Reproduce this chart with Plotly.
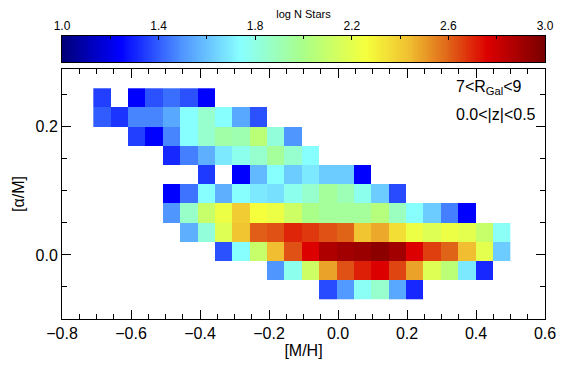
import numpy as np
import plotly.graph_objects as go

# bins of the 2D histogram ([M/H] columns, [alpha/M] rows)
mh_first, mh_step = -0.684, 0.0504
am_first, am_step = -0.055, 0.03

# log N stars per cell, rows listed from top ([a/M]=0.245) to bottom ([a/M]=-0.055)
# columns 0..23 along [M/H]; None = empty cell
N = None
logn_rows = [
    [1.35, N, 1.24, 1.38, 1.43, 1.38, 1.24, N, N, N, N, N, N, N, N, N, N, N, N, N, N, N, N, N],
    [1.40, 1.33, 1.47, 1.47, 1.54, 1.74, 1.85, 1.74, 1.54, 1.38, N, N, N, N, N, N, N, N, N, N, N, N, N, N],
    [N, N, 1.35, 1.24, 1.47, 1.74, 1.85, 1.93, 1.91, 2.06, 1.82, 1.50, N, N, N, N, N, N, N, N, N, N, N, N],
    [N, N, N, N, 1.31, 1.46, 1.56, 1.69, 1.78, 1.85, 1.96, 1.85, 1.74, N, N, N, N, N, N, N, N, N, N, N],
    [N, N, N, N, N, N, 1.34, N, 1.24, 1.58, 1.74, 1.62, 1.69, 1.62, 1.62, 1.24, N, N, N, N, N, N, N, N],
    [N, N, N, N, 1.24, 1.44, 1.74, 1.56, 1.74, 1.69, 1.67, 1.78, 1.85, 1.96, 1.90, 1.78, 1.62, 1.37, N, N, N, N, N, N],
    [N, N, N, N, 1.50, 1.86, 2.10, 2.23, 2.40, 2.26, 2.23, 2.12, 2.00, 1.96, 1.96, 1.96, 2.04, 1.88, 1.74, 1.62, 1.46, 1.24, N, N],
    [N, N, N, N, N, 1.56, 1.82, 2.18, 2.42, 2.61, 2.63, 2.70, 2.67, 2.63, 2.60, 2.42, 2.48, 2.35, 2.23, 2.18, 2.23, 2.20, 2.10, 1.76],
    [N, N, N, N, N, N, N, 1.38, 1.74, 2.10, 2.44, 2.63, 2.76, 2.87, 2.90, 2.92, 2.95, 2.90, 2.76, 2.66, 2.60, 2.44, 2.20, 1.62],
    [N, N, N, N, N, N, N, N, N, N, 1.50, 1.78, 2.12, 2.49, 2.63, 2.71, 2.76, 2.65, 2.49, 2.18, 2.06, 1.69, 1.31, N],
    [N, N, N, N, N, N, N, N, N, N, N, N, N, 1.37, 1.51, 1.76, 1.85, 1.54, 1.31, N, N, N, N, N],
]

cbar_ticks = [1.0, 1.4, 1.8, 2.2, 2.6, 3.0]

jet = [
    [0.00, "rgb(0,0,120)"],
    [0.12, "rgb(0,0,255)"],
    [0.25, "rgb(80,150,255)"],
    [0.37, "rgb(136,255,255)"],
    [0.50, "rgb(170,255,136)"],
    [0.63, "rgb(245,255,60)"],
    [0.72, "rgb(240,190,48)"],
    [0.80, "rgb(224,100,24)"],
    [0.88, "rgb(221,0,0)"],
    [1.00, "rgb(120,0,0)"],
]

z = [row for row in reversed(logn_rows)]

fig = go.Figure()
fig.add_trace(go.Heatmap(
    z=z, x0=mh_first, dx=mh_step, y0=am_first, dy=am_step,
    zmin=1.0, zmax=3.0, colorscale=jet, showscale=False,
    hoverongaps=False, xaxis="x", yaxis="y",
))

# colour key drawn as a strip on its own axes so the labels sit on top
levels = np.linspace(1.0, 3.0, 256)
fig.add_trace(go.Heatmap(
    z=[levels], x=levels, y=[0],
    zmin=1.0, zmax=3.0, colorscale=jet, showscale=False,
    xaxis="x2", yaxis="y2", hoverinfo="skip",
))

font = "Liberation Sans, Arial, Helvetica, sans-serif"
axis_common = dict(
    showline=True, linecolor="black", linewidth=1, mirror="ticks",
    ticks="inside", ticklen=9, tickcolor="black", showgrid=False, zeroline=False,
    tickfont=dict(size=16, color="black"), automargin=False,
)

# page body adds an 8px margin, so the figure is 8px smaller than the window
fig.update_layout(
    width=566, height=358,
    margin=dict(l=54, r=29, t=26, b=47),
    paper_bgcolor="white", plot_bgcolor="white",
    font=dict(family=font, color="black"),
    xaxis=dict(
        range=[-0.8, 0.6], dtick=0.2, tick0=-0.8, tickformat=".1f",
        minor=dict(dtick=0.05, ticklen=5, ticks="inside", tickcolor="black"),
        title=dict(text="[M/H]", font=dict(size=16), standoff=2),
        domain=[0, 1],
        **axis_common,
    ),
    yaxis=dict(
        range=[-0.1, 0.29], dtick=0.2, tick0=0.0, tickformat=".1f",
        minor=dict(dtick=0.05, ticklen=5, ticks="inside", tickcolor="black"),
        title=dict(text="[α/M]", font=dict(size=16), standoff=6),
        domain=[0, 0.877],
        **axis_common,
    ),
    xaxis2=dict(
        anchor="y2", side="top", range=[1.0, 3.0], domain=[0, 1],
        tickvals=cbar_ticks, ticktext=[f"{v:.1f}" for v in cbar_ticks],
        ticks="inside", ticklen=4, tickcolor="black",
        minor=dict(dtick=0.2, ticks="inside", ticklen=3, tickcolor="black"),
        showline=True, linecolor="black", mirror=True, showgrid=False, zeroline=False,
        tickfont=dict(size=12, color="black"), automargin=False,
        title=dict(text="log N Stars", font=dict(size=11), standoff=0),
    ),
    yaxis2=dict(
        anchor="x2", domain=[0.902, 0.993], range=[-0.5, 0.5],
        showticklabels=False, ticks="", showline=True, linecolor="black",
        mirror=True, showgrid=False, zeroline=False, automargin=False,
    ),
    annotations=[
        dict(text="7<R<sub>Gal</sub><9", xref="paper", yref="paper",
             x=0.812, y=0.814, xanchor="left", yanchor="middle",
             showarrow=False, font=dict(size=16)),
        dict(text="0.0<|z|<0.5", xref="paper", yref="paper",
             x=0.812, y=0.719, xanchor="left", yanchor="middle",
             showarrow=False, font=dict(size=16)),
    ],
)

fig.write_html("out.html")
